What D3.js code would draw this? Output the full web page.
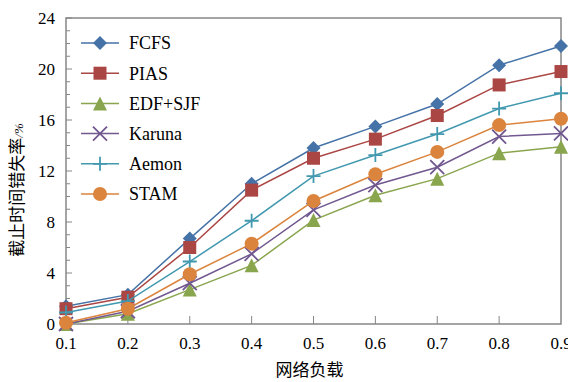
<!DOCTYPE html>
<html>
<head>
<meta charset="utf-8">
<script src="https://cdn.jsdelivr.net/npm/d3@7"></script>
<style>
  body { margin: 0; background: #fff; }
  svg { display: block; }
  text { font-family: "Liberation Serif", "Times New Roman", serif; fill: #000; }
</style>
</head>
<body>
<div id="chart"></div>
<script>
const loads = [0.1, 0.2, 0.3, 0.4, 0.5, 0.6, 0.7, 0.8, 0.9];
const fcfs   = [1.4, 2.3, 6.7, 11.0, 13.8, 15.5, 17.25, 20.3, 21.8];
const pias   = [1.2, 2.1, 6.0, 10.5, 13.0, 14.5, 16.35, 18.75, 19.8];
const edfSjf = [0.0, 0.8, 2.7, 4.6, 8.15, 10.1, 11.4, 13.4, 13.9];
const karuna = [0.0, 1.0, 3.2, 5.5, 8.95, 10.9, 12.3, 14.7, 14.95];
const aemon  = [0.9, 1.8, 4.9, 8.1, 11.6, 13.25, 14.9, 16.9, 18.1];
const stam   = [0.1, 1.2, 3.9, 6.3, 9.65, 11.75, 13.5, 15.6, 16.1];
const yTicks = [0, 4, 8, 12, 16, 20, 24];

const series = [
    {name: "FCFS",    values: fcfs,   color: "#4572A7", marker: "diamond"},
    {name: "PIAS",    values: pias,   color: "#AA4643", marker: "square"},
    {name: "EDF+SJF", values: edfSjf, color: "#89A54E", marker: "triangle"},
    {name: "Karuna",  values: karuna, color: "#71588F", marker: "x"},
    {name: "Aemon",   values: aemon,  color: "#4198AF", marker: "plus"},
    {name: "STAM",    values: stam,   color: "#DB843D", marker: "circle"}
];

const W = 568, H = 382;
const margin = {top: 18, right: 7, bottom: 58, left: 66};
const width = W - margin.left - margin.right;
const height = H - margin.top - margin.bottom;
const axisColor = "#868686";

const svg = d3.select("#chart").append("svg")
    .attr("width", W)
    .attr("height", H);

const g = svg.append("g")
    .attr("transform", `translate(${margin.left},${margin.top})`);

const x = d3.scaleLinear().domain([0.1, 0.9]).range([0, width]);
const y = d3.scaleLinear().domain([0, 24]).range([height, 0]);

// y ticks inside, minor every 1
g.append("g")
    .selectAll("line")
    .data(d3.range(0, 25, 1))
    .enter().append("line")
    .attr("x1", 0)
    .attr("x2", d => d % 4 === 0 ? 6 : 4)
    .attr("y1", d => y(d))
    .attr("y2", d => y(d))
    .attr("stroke", axisColor)
    .attr("stroke-width", 1);

// x ticks inside
g.append("g")
    .selectAll("line")
    .data(loads.slice(1, -1))
    .enter().append("line")
    .attr("x1", d => x(d))
    .attr("x2", d => x(d))
    .attr("y1", height)
    .attr("y2", height - 8)
    .attr("stroke", axisColor)
    .attr("stroke-width", 1);

// frame
g.append("rect")
    .attr("x", 0)
    .attr("y", 0)
    .attr("width", width)
    .attr("height", height)
    .attr("fill", "none")
    .attr("stroke", axisColor)
    .attr("stroke-width", 1.5);

// y tick labels
g.append("g")
    .selectAll("text")
    .data(yTicks)
    .enter().append("text")
    .attr("x", -11)
    .attr("y", d => y(d))
    .attr("dy", "0.35em")
    .attr("text-anchor", "end")
    .style("font-size", "17px")
    .text(d => d);

// x tick labels
g.append("g")
    .selectAll("text")
    .data(loads)
    .enter().append("text")
    .attr("x", d => x(d))
    .attr("y", height + 25)
    .attr("text-anchor", "middle")
    .style("font-size", "17px")
    .text(d => d.toFixed(1));

// axis titles
svg.append("text")
    .attr("x", margin.left + width / 2 - 4)
    .attr("y", 376)
    .attr("text-anchor", "middle")
    .style("font-family", "'Noto Sans CJK SC', sans-serif")
    .style("font-size", "17px")
    .text("网络负载");

const yTitle = svg.append("text")
    .attr("transform", "translate(23,190) rotate(-90)")
    .attr("text-anchor", "middle")
    .style("font-family", "'Noto Sans CJK SC', sans-serif")
    .style("font-size", "17px");
yTitle.append("tspan").text("截止时间错失率");
yTitle.append("tspan")
    .style("font-family", "'Liberation Serif', serif")
    .style("font-style", "italic")
    .style("font-size", "13px")
    .text("/%");

function drawMarker(sel, type, color) {
    const s = 7;
    if (type === "diamond") {
        sel.append("path").attr("d", `M0,${-s}L${s},0L0,${s}L${-s},0Z`).attr("fill", color);
    } else if (type === "square") {
        sel.append("rect").attr("x", -6.5).attr("y", -6.5).attr("width", 13).attr("height", 13).attr("fill", color);
    } else if (type === "triangle") {
        sel.append("path").attr("d", `M0,${-s}L${s},${s}L${-s},${s}Z`).attr("fill", color);
    } else if (type === "circle") {
        sel.append("circle").attr("r", 7).attr("fill", color);
    } else if (type === "x") {
        sel.append("path").attr("d", `M${-s},${-s}L${s},${s}M${-s},${s}L${s},${-s}`)
            .attr("stroke", color).attr("stroke-width", 1.8).attr("fill", "none");
    } else if (type === "plus") {
        sel.append("path").attr("d", `M${-s},0L${s},0M0,${-s}L0,${s}`)
            .attr("stroke", color).attr("stroke-width", 1.8).attr("fill", "none");
    }
}

const line = d3.line()
    .x((d, i) => x(loads[i]))
    .y(d => y(d));

series.forEach(s => {
    const sg = g.append("g");
    sg.append("path")
        .datum(s.values)
        .attr("d", line)
        .attr("fill", "none")
        .attr("stroke", s.color)
        .attr("stroke-width", 1.5);
    s.values.forEach((v, i) => {
        const m = sg.append("g").attr("transform", `translate(${x(loads[i])},${y(v)})`);
        drawMarker(m, s.marker, s.color);
    });
});

// legend
const legend = svg.append("g");
series.forEach((s, i) => {
    const ly = 43 + i * 30.2;
    legend.append("line")
        .attr("x1", 81).attr("x2", 119)
        .attr("y1", ly).attr("y2", ly)
        .attr("stroke", s.color)
        .attr("stroke-width", 1.5);
    const m = legend.append("g").attr("transform", `translate(100,${ly})`);
    drawMarker(m, s.marker, s.color);
    legend.append("text")
        .attr("x", 129)
        .attr("y", ly)
        .attr("dy", "0.35em")
        .style("font-size", "18px")
        .text(s.name);
});
</script>
</body>
</html>
